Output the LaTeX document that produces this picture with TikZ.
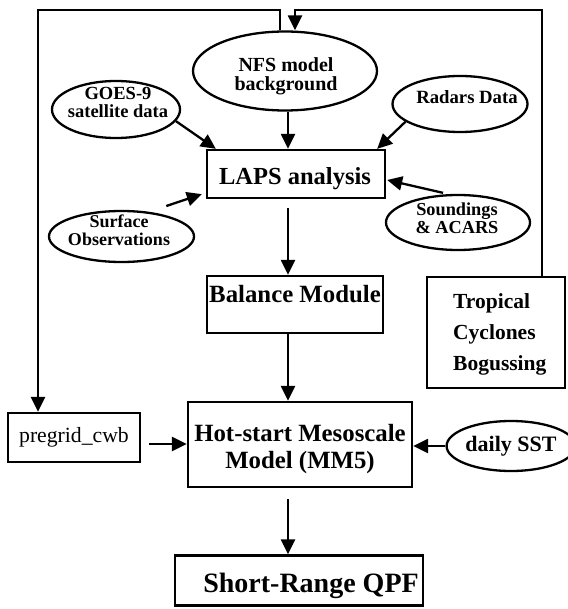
\documentclass[tikz,border=0pt]{standalone}
\usepackage{fontspec}
\setmainfont{Liberation Serif}
\usetikzlibrary{shapes.geometric,arrows.meta}
\newcommand{\fs}[2]{\fontsize{#1}{#2}\selectfont}
\tikzset{
  ln/.style={line width=2.3pt},
  arr/.style={ln,-{Triangle[length=15pt,width=14pt]}},
  ell/.style={draw,ln,ellipse,inner sep=0pt},
  box/.style={draw,ln,rectangle,inner sep=0pt},
  txt/.style={inner sep=0pt,align=center,font=\bfseries},
}
\begin{document}
\begin{tikzpicture}[x=1pt,y=-1pt]
\useasboundingbox (0,0) rectangle (567,609);
% ellipses
\node[ell,minimum width=184pt,minimum height=79pt] (nfs) at (285,71) {};
\node[txt,font=\bfseries\fs{20}{18.6}] (nfst) at (286,76) {NFS model\\background};
\node[ell,minimum width=128pt,minimum height=57pt] (goes) at (116,109.5) {};
\node[txt,font=\bfseries\fs{18.5}{18}] (goest) at (118,102.5) {GOES-9\\satellite data};
\node[ell,minimum width=135pt,minimum height=56pt] (radar) at (460,104) {};
\node[txt,font=\bfseries\fs{18.7}{20}] (radart) at (467,97) {Radars Data};
\node[ell,minimum width=145pt,minimum height=51pt] (surf) at (121.5,236.5) {};
\node[txt,font=\bfseries\fs{18}{18.3}] (surft) at (119,230) {Surface\\Observations};
\node[ell,minimum width=144pt,minimum height=55pt] (sound) at (458,222.5) {};
\node[txt,font=\bfseries\fs{18.3}{18}] (soundt) at (457,218) {Soundings\\\& ACARS};
\node[ell,minimum width=111pt,minimum height=50pt,font=\bfseries\fs{22}{24}] (sst) at (511,446) {daily SST};
% boxes
\node[box,minimum width=178pt,minimum height=48pt] (laps) at (296,174) {};
\node[txt,font=\bfseries\fs{24.5}{26}] (lapst) at (295,179) {LAPS analysis};
\node[box,minimum width=176pt,minimum height=57pt] (bal) at (295,304.5) {};
\node[txt,font=\bfseries\fs{24.8}{26}] (balt) at (295,294.5) {Balance Module};
\node[box,minimum width=138pt,minimum height=111pt] (trop) at (496,332.5) {};
\node[txt,align=left,anchor=west,font=\bfseries\fs{21.5}{31}] (tropt) at (453,334) {Tropical\\Cyclones\\Bogussing};
\node[box,minimum width=132pt,minimum height=49pt,font=\fs{21.7}{23}] (pregrid) at (74,437.5) {pregrid\_cwb};
\node[box,minimum width=224pt,minimum height=85pt] (hot) at (300,444.5) {};
\node[txt,font=\bfseries\fs{24.8}{27}] (hott) at (300,449) {Hot-start Mesoscale\\Model (MM5)};
\node[box,minimum width=248pt,minimum height=50pt] (qpf) at (299,580.5) {};
\node[txt,font=\bfseries\fs{28}{30}] (qpft) at (311,586) {Short-Range QPF};
% connectors into LAPS
\draw[arr] (goes.-11) -- ([xshift=10pt]laps.north west);
\draw[arr] ([xshift=3pt]nfs.south) -- ([xshift=3pt]nfs.south |- laps.north);
\draw[arr] (radar.198) -- ([xshift=-9pt]laps.north east);
\draw[arr] ([shift={(10,-7)}]surf.34) -- ([shift={(-4,-5)}]laps.south west);
\draw[arr] ([shift={(-15,-1)}]sound.north) -- ([shift={(1,6)}]laps.east);
% main chain
\draw[arr,shorten <=9pt] ([xshift=-8pt]laps.south) -- ([xshift=-8pt]laps.south |- bal.north);
\draw[arr] ([xshift=-7pt]bal.south) -- ([xshift=-7pt]bal.south |- hot.north);
\draw[arr,shorten <=11pt] ([xshift=-12pt]hot.south) -- ([xshift=-12pt]hot.south |- qpf.north);
\draw[arr,shorten <=8pt] ([yshift=-6.5pt]pregrid.east) -- ([yshift=-6.5pt]pregrid.east -| hot.west);
\draw[arr] (sst.west) -- (sst.west -| hot.east);
% feedback loops
\coordinate (tl) at (38,10);
\coordinate (tr) at (542,10);
\draw[arr] ([xshift=-5pt]nfs.north) |- (tl) -- (tl |- pregrid.north);
\draw[arr] (trop.north -| tr) -- (tr) -| ([xshift=10pt]nfs.north);
\end{tikzpicture}
\end{document}
